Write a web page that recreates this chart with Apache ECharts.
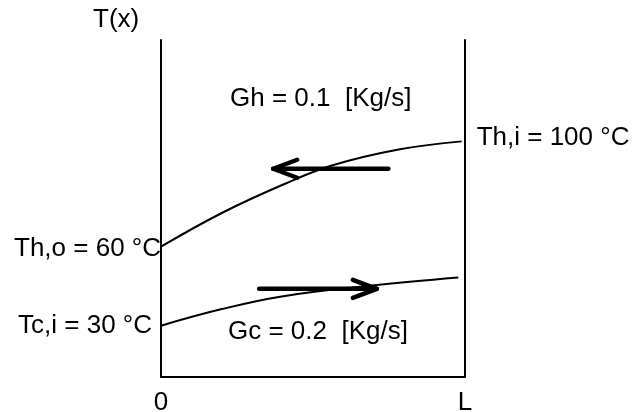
<!DOCTYPE html>
<html>
<head>
<meta charset="utf-8">
<script src="https://cdn.jsdelivr.net/npm/echarts@6/dist/echarts.min.js"></script>
<style>
  html, body { margin: 0; padding: 0; background: #fff; }
  #chart { width: 634px; height: 412px; }
</style>
</head>
<body>
<div id="chart"></div>
<script>
// Position along the exchanger, as a fraction of its length L
const hotX  = [0, 0.200, 0.408, 0.567, 0.786, 0.989];
// Hot stream temperature T(x) in °C
const hotT  = [60, 72.8, 83.9, 91.0, 97.0, 100];
const coldX = [0, 0.200, 0.397, 0.688, 0.978];
// Cold stream temperature T(x) in °C
const coldT = [30, 36.3, 41.1, 45.2, 48.3];

// Flow direction arrows: [xFrom, T, xTo, T]
const hotArrow  = [0.748, 89.6, 0.369, 89.6];
const coldArrow = [0.323, 44.0, 0.710, 44.0];

// Mass flow rates [kg/s]
const Gh = 0.1;
const Gc = 0.2;

const xTickLabels = ['0', 'L'];
const axisName = 'T(x)';

const FONT = '"Liberation Sans", Arial, Helvetica, sans-serif';
const FS = 26;

const pairs = (xs, ys) => xs.map((x, i) => [x, ys[i]]);

const chart = echarts.init(document.getElementById('chart'), null, { renderer: 'canvas' });

const yRange = { min: 10.7, max: 138.5 };

const blackAxis = { show: true, lineStyle: { color: '#000', width: 2 } };

// Thick shaft with an open chevron head, sized in pixels
function arrowItem(params, api) {
  const a = api.coord([api.value(0), api.value(1)]);
  const b = api.coord([api.value(2), api.value(3)]);
  const dx = b[0] - a[0], dy = b[1] - a[1];
  const len = Math.hypot(dx, dy);
  const ux = dx / len, uy = dy / len;
  const back = 24, spread = 9;
  const p1 = [b[0] - ux * back - uy * spread, b[1] - uy * back + ux * spread];
  const p2 = [b[0] - ux * back + uy * spread, b[1] - uy * back - ux * spread];
  const st = { stroke: '#000', lineWidth: 4.5, lineCap: 'round', lineJoin: 'round', fill: 'none' };
  return {
    type: 'group',
    children: [
      { type: 'line', shape: { x1: a[0], y1: a[1], x2: b[0], y2: b[1] }, style: st },
      { type: 'polyline', shape: { points: [p1, b, p2] }, style: st }
    ]
  };
}

const labelText = { color: '#000', opacity: 1, fontFamily: FONT, fontSize: FS, textBorderWidth: 0 };

chart.setOption({
  backgroundColor: '#fff',
  animation: false,
  grid: { left: 161, right: 169, top: 40, bottom: 35.5, outerBoundsMode: 'none', containLabel: false },
  xAxis: {
    type: 'value', min: 0, max: 1, interval: 1,
    axisLine: blackAxis,
    axisTick: { show: false },
    splitLine: { show: false },
    axisLabel: {
      margin: 13, color: '#000', fontFamily: FONT, fontSize: FS,
      formatter: v => xTickLabels[Math.round(v)]
    }
  },
  yAxis: [
    {
      type: 'value', position: 'left', ...yRange,
      axisLine: { ...blackAxis, onZero: false },
      axisTick: { show: false }, axisLabel: { show: false }, splitLine: { show: false }
    },
    {
      type: 'value', position: 'right', ...yRange,
      axisLine: { ...blackAxis, onZero: false },
      axisTick: { show: false }, axisLabel: { show: false }, splitLine: { show: false }
    }
  ],
  graphic: [
    { type: 'text', x: 93, y: 20, style: { text: axisName, font: `${FS}px ${FONT}`, fill: '#000', verticalAlign: 'middle' }, z: 10 },
    { type: 'text', x: 230, y: 98.5, style: { text: `Gh = ${Gh}  [Kg/s]`, font: `${FS}px ${FONT}`, fill: '#000', verticalAlign: 'middle' }, z: 10 },
    { type: 'text', x: 228, y: 331.5, style: { text: `Gc = ${Gc}  [Kg/s]`, font: `${FS}px ${FONT}`, fill: '#000', verticalAlign: 'middle' }, z: 10 }
  ],
  series: [
    {
      name: 'hot', type: 'line', smooth: 0.4, symbol: 'none',
      lineStyle: { color: '#000', width: 2 },
      data: pairs(hotX, hotT)
    },
    {
      name: 'cold', type: 'line', smooth: 0.4, symbol: 'none',
      lineStyle: { color: '#000', width: 2 },
      data: pairs(coldX, coldT)
    },
    {
      name: 'ends', type: 'scatter', symbol: 'circle', symbolSize: 0,
      itemStyle: { color: '#000', opacity: 1 },
      silent: true,
      label: { ...labelText },
      data: [
        { value: [hotX[0], hotT[0]],
          label: { show: true, position: 'left', distance: 0, offset: [0, 2.5], ...labelText,
                   formatter: `Th,o = ${hotT[0]} °C` } },
        { value: [coldX[0], coldT[0]],
          label: { show: true, position: 'left', distance: 9, offset: [0, 0.5], ...labelText,
                   formatter: `Tc,i = ${coldT[0]} °C` } },
        { value: [hotX[hotX.length - 1], hotT[hotT.length - 1]],
          label: { show: true, position: 'right', distance: 15, offset: [0, -4], ...labelText,
                   formatter: `Th,i = ${hotT[hotT.length - 1]} °C` } }
      ]
    },
    {
      name: 'flow', type: 'custom', renderItem: arrowItem,
      encode: { x: [0, 2], y: [1, 3] },
      data: [hotArrow, coldArrow]
    }
  ]
});
</script>
</body>
</html>
